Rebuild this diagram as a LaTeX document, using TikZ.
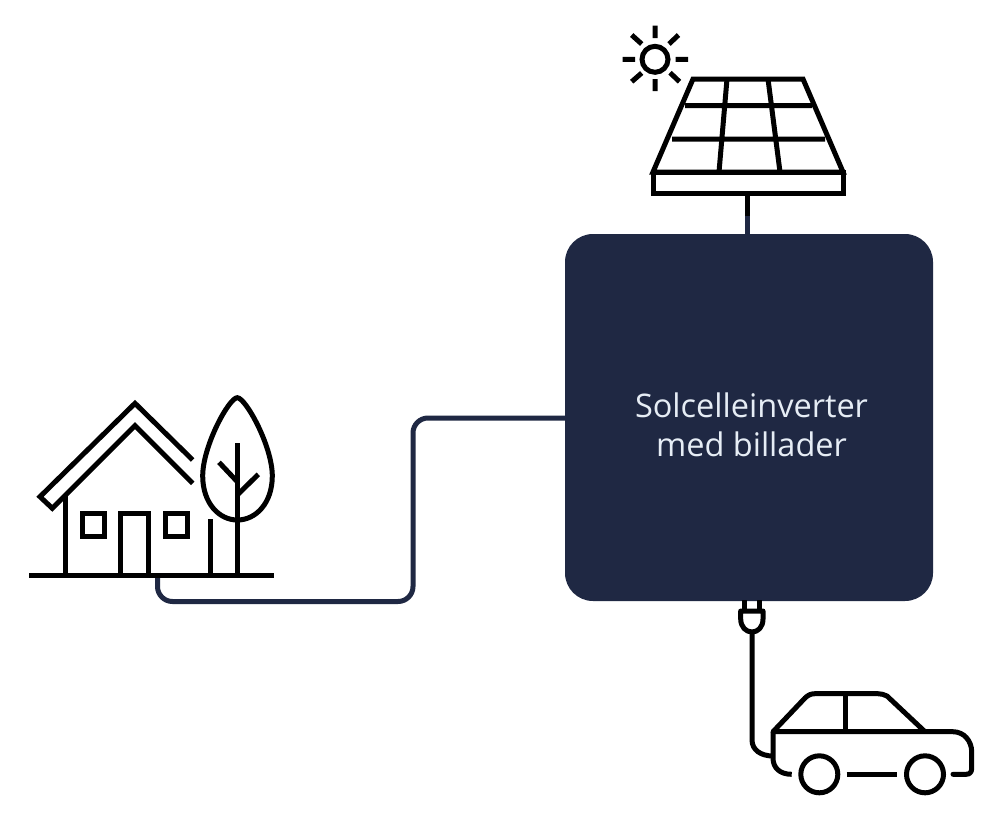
\documentclass[tikz,border=0pt]{standalone}
\usepackage{fontspec}
\setmainfont{Open Sans}
\definecolor{navy}{HTML}{1F2843}
\definecolor{paletxt}{HTML}{E6EDF5}
\tikzset{
  icon/.style={draw=black,line width=5pt,line join=miter,line cap=butt},
  iconround/.style={icon,line join=round,line cap=round},
  wire/.style={draw=navy,line width=5pt},
  boxstyle/.style={fill=navy,draw=none,rounded corners=28pt,minimum width=368pt,minimum height=367pt,inner sep=0pt,
    text=paletxt,align=center,font=\fontsize{32.5}{39}\selectfont},
}
\begin{document}
\begin{tikzpicture}[x=1pt,y=-1pt]
\useasboundingbox (0,0) rectangle (1000,814);
\fill[white] (0,0) rectangle (1000,814);
% named anchors for the connectors
\coordinate (houseout) at (157.5,575);
\coordinate (panelout) at (747.7,193);
\coordinate (panelmid) at (747.7,216);
\coordinate (plug) at (752,632);
\coordinate (carin) at (773,756);
% connectors
\draw[wire,rounded corners=15pt] (houseout) -- (157.5,601.5) -- (413,601.5) -- (413,418) -- (570,418);
\draw[wire] (panelmid) -- (747.7,240);
\draw[icon] (panelout) -- (panelmid);
% inverter
\node[boxstyle] (inv) at (749,417.5) {\hspace*{5pt}\raisebox{-18pt}[0pt][0pt]{\begin{tabular}[c]{@{}c@{}}Solcelleinverter\\med billader\end{tabular}}};
% sun
\draw[icon] (655,59.3) circle (13);
\draw[icon] (655,25.7) -- (655,38) (655,79) -- (655,91)
  (622.7,59.3) -- (635,59.3) (675.7,59.3) -- (688,59.3)
  (631.7,35) -- (641.7,44) (678.5,35) -- (669,44)
  (631.7,81.7) -- (641.7,73) (679.5,81.7) -- (670,72.7);
% panel
\draw[icon] (693,79) -- (803,79) -- (843,172) -- (653,172) -- cycle;
\draw[icon] (653,172) rectangle (843,193);
\draw[icon] (685,105.7) -- (812,105.7) (672,139) -- (825,139)
  (727,79) -- (719,172) (768,79) -- (780,172);
% house
\draw[icon] (29.3,575) -- (274,575);
\draw[icon] (192.7,460) -- (135,403.3) -- (40,496.7) -- (52.3,508.3) -- (135,425.7) -- (192.7,483.3);
\draw[icon] (65.7,496) -- (65.7,575);
\draw[icon] (210,519) -- (210,575);
\draw[icon] (82.3,513.3) rectangle (104.3,536.7);
\draw[icon] (165.7,513.3) rectangle (187.7,536.7);
\draw[icon] (120.7,575) -- (120.7,513.3) -- (148.3,513.3) -- (148.3,575);
% tree
\draw[icon] (237.3,397.7) .. controls (229,397.7) and (202.7,446) .. (202.7,476)
  .. controls (202.7,503) and (219,520) .. (237.3,520)
  .. controls (256,520) and (272.3,503) .. (272.3,476)
  .. controls (272.3,446) and (245.6,397.7) .. cycle;
\draw[icon] (237.3,443.3) -- (237.3,575);
\draw[icon] (219,462.3) -- (237.3,481.7) (258.3,474.3) -- (237.3,495);
% plug
\draw[icon] (744,600) -- (744,612) (759.3,600) -- (759.3,612);
\draw[icon,line join=round] (740.7,611) -- (763,611) -- (763,619) .. controls (763,627) and (758,632) .. (752,632)
  .. controls (746,632) and (740.7,627) .. (740.7,619) -- cycle;
\draw[icon] (plug) -- (752,740) .. controls (752,750) and (761,756) .. (carin);
% car
\draw[iconround] (925,731.7) -- (887,696) .. controls (884,694.5) and (881,693.7) .. (878,693.7) -- (815,693.7)
  .. controls (811,693.7) and (808,695) .. (805,698) -- (773,731.7) -- (953,731.7)
  .. controls (964,731.7) and (971.7,741) .. (971.7,752) -- (971.7,768) .. controls (971.7,772) and (970,774.3) .. (966,774.3) -- (953,774.3);
\draw[iconround,line cap=butt] (791.7,774.3) .. controls (780,774.3) and (773,768) .. (773,758) -- (773,731.7);
\draw[icon] (845,695) -- (845,731.7);
\draw[icon] (846.7,774.3) -- (897.3,774.3);
\draw[icon] (819.3,774.3) circle (18.5);
\draw[icon] (925,774.3) circle (18.5);
\end{tikzpicture}
\end{document}
